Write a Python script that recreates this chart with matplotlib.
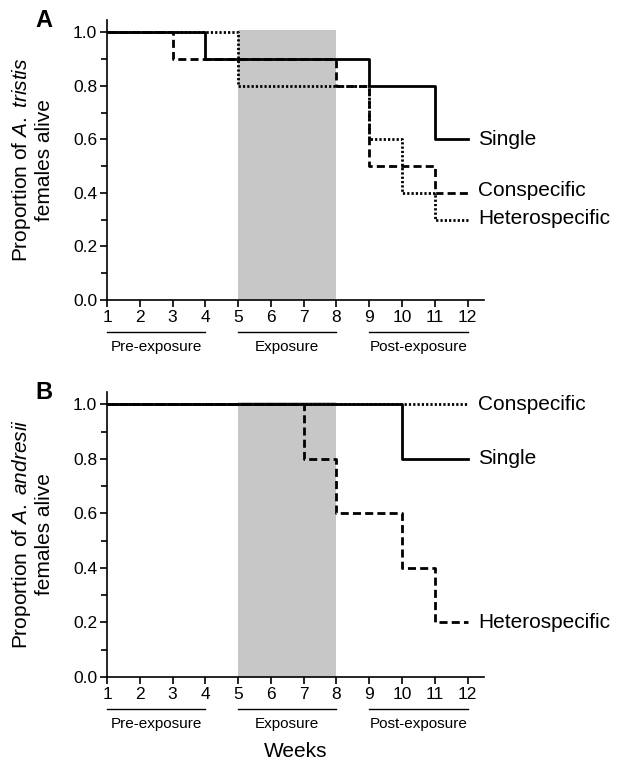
import matplotlib
matplotlib.use("Agg")
import matplotlib.pyplot as plt
from matplotlib.ticker import MultipleLocator, FormatStrFormatter

plt.rcParams['font.family'] = ['Liberation Sans', 'DejaVu Sans']
plt.rcParams['mathtext.fontset'] = 'custom'
plt.rcParams['mathtext.rm'] = 'Liberation Sans'
plt.rcParams['mathtext.it'] = 'Liberation Sans:italic'

# %% data
weeks = list(range(1, 13))

a_single = [1, 1, 1, 0.9, 0.9, 0.9, 0.9, 0.9, 0.8, 0.8, 0.6, 0.6]
a_consp = [1, 1, 0.9, 0.9, 0.9, 0.9, 0.9, 0.8, 0.5, 0.5, 0.4, 0.4]
a_hetero = [1, 1, 1, 1, 0.8, 0.8, 0.8, 0.8, 0.6, 0.4, 0.3, 0.3]

b_single = [1, 1, 1, 1, 1, 1, 1, 1, 1, 0.8, 0.8, 0.8]
b_consp = [1, 1, 1, 1, 1, 1, 1, 1, 1, 1, 1, 1]
b_hetero = [1, 1, 1, 1, 1, 1, 0.8, 0.6, 0.6, 0.4, 0.2, 0.2]

phases = ["Pre-exposure", "Exposure", "Post-exposure"]
phase_spans = [(1, 4), (5, 8), (9, 12)]
exposure = (5, 8)

# label positions (y) at the right end of each curve
a_labels = [("Single", 0.6), ("Conspecific", 0.41), ("Heterospecific", 0.305)]
b_labels = [("Conspecific", 1.0), ("Single", 0.8), ("Heterospecific", 0.2)]

styles = {
    "single": dict(color="black", lw=2.0, linestyle="-"),
    "consp": dict(color="black", lw=2.0, dashes=(2.9, 1.5)),
    "hetero": dict(color="black", lw=2.0, dashes=(0.8, 0.75)),
}


def panel(ax, single, consp, hetero, labels, letter, species):
    ax.axvspan(exposure[0], exposure[1], ymin=0, ymax=1.01 / 1.045,
               color="#c6c7c6", lw=0, zorder=0)
    if letter == "B":
        ax.step(weeks, consp, where="post", **styles["hetero"])
        ax.step(weeks, hetero, where="post", **styles["consp"])
        ax.step(weeks, single, where="post", **styles["single"])
    else:
        ax.step(weeks, hetero, where="post", **styles["hetero"])
        ax.step(weeks, consp, where="post", **styles["consp"])
        ax.step(weeks, single, where="post", **styles["single"])
    for txt, y in labels:
        ax.text(12.32, y, txt, fontsize=15, va="center", ha="left", clip_on=False)

    ax.set_xlim(1, 12.5)
    ax.set_ylim(0, 1.045)
    ax.set_xticks(weeks)
    ax.yaxis.set_major_locator(MultipleLocator(0.2))
    ax.yaxis.set_minor_locator(MultipleLocator(0.1))
    ax.yaxis.set_major_formatter(FormatStrFormatter("%.1f"))
    ax.tick_params(labelsize=12.5, width=1.2, length=5, pad=2)
    ax.tick_params(which="minor", width=1.2, length=4)
    for s in ["top", "right"]:
        ax.spines[s].set_visible(False)
    for s in ["left", "bottom"]:
        ax.spines[s].set_linewidth(1.2)

    ax.set_ylabel("Proportion of $\\mathit{A.\\ %s}$\nfemales alive" % species,
                  fontsize=15, labelpad=14, linespacing=1.1)

    # phase brackets below the x axis
    h = ax.get_window_extent().height
    trans = ax.get_xaxis_transform()
    for name, (x0, x1) in zip(phases, phase_spans):
        ax.plot([x0, x1], [-32 / h, -32 / h], color="black", lw=1.0,
                transform=trans, clip_on=False)
        ax.text((x0 + x1) / 2, -47 / h, name, fontsize=11, ha="center",
                va="center", transform=trans)

    ax.text(-0.19, 1.0, letter, fontsize=17, fontweight="bold",
            transform=ax.transAxes, ha="left", va="center")


fig = plt.figure(figsize=(6.2, 7.62), dpi=100)
ax1 = fig.add_axes([0.1726, 0.6063, 0.608, 0.367])
ax2 = fig.add_axes([0.1726, 0.1115, 0.608, 0.374])

panel(ax1, a_single, a_consp, a_hetero, a_labels, "A", "tristis")
panel(ax2, b_single, b_consp, b_hetero, b_labels, "B", "andresii")

ax2.text(0.5, -0.262, "Weeks", fontsize=15, ha="center", va="center",
         transform=ax2.transAxes)

plt.savefig("out.png", dpi=100)
